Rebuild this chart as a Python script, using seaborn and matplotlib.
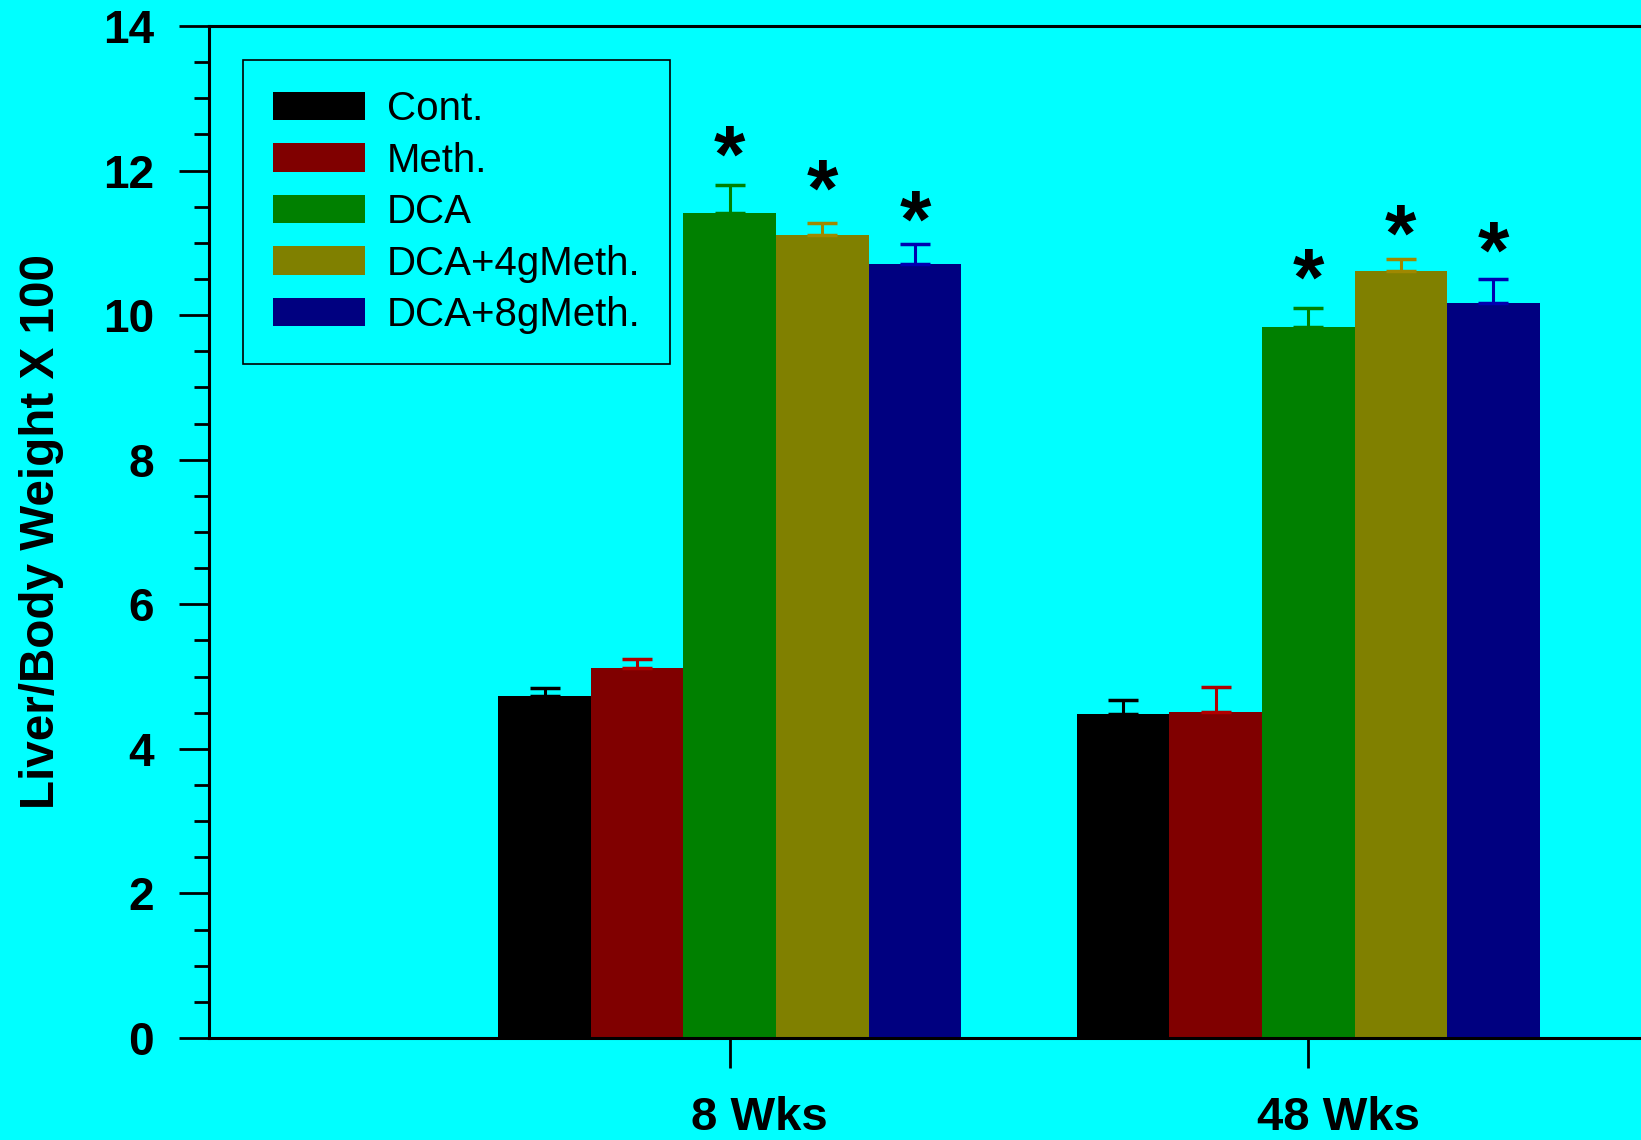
import numpy as np
import pandas as pd
import seaborn as sns
import matplotlib
matplotlib.use("Agg")
import matplotlib.pyplot as plt
import matplotlib.transforms as mtransforms
from matplotlib.ticker import MultipleLocator

# values
weeks = ["8 Wks", "48 Wks"]
groups = ["Cont.", "Meth.", "DCA", "DCA+4gMeth.", "DCA+8gMeth."]
means_8 = [4.73, 5.12, 11.41, 11.11, 10.71]
means_48 = [4.48, 4.51, 9.83, 10.61, 10.17]
sem_8 = [0.11, 0.12, 0.39, 0.16, 0.27]
sem_48 = [0.19, 0.35, 0.27, 0.17, 0.33]
# centre of the "*" marks above the treated groups
star_8 = [None, None, 12.40, 11.93, 11.50]
star_48 = [None, None, 10.69, 11.30, 11.07]

bar_colors = ["#000000", "#800000", "#008000", "#808000", "#000080"]
err_colors = ["#000000", "#B00000", "#008000", "#A08800", "#0000B0"]

df = pd.DataFrame({
    "week": np.repeat(weeks, len(groups)),
    "group": groups * len(weeks),
    "ratio": means_8 + means_48,
})

sns.set_style("ticks")
plt.rcParams["font.family"] = ["Liberation Sans", "DejaVu Sans"]
plt.rcParams["text.color"] = "black"
plt.rcParams["axes.labelcolor"] = "black"
plt.rcParams["xtick.color"] = "black"
plt.rcParams["ytick.color"] = "black"

fig = plt.figure(figsize=(16.41, 11.40), dpi=100, facecolor="#00FFFF")
ax = fig.add_axes([0.1274, 0.0895, 0.8726, 0.8877])
ax.set_facecolor("#00FFFF")

sns.barplot(data=df, x="week", y="ratio", hue="group", hue_order=groups,
            palette=bar_colors, saturation=1, width=0.8, linewidth=0,
            errorbar=None, legend=False, ax=ax)

bar_conts = list(ax.containers)
errs = [sem_8, sem_48]
stars = [star_8, star_48]
for gi, cont in enumerate(bar_conts):
    for wi, bar in enumerate(cont.patches):
        xc = bar.get_x() + bar.get_width() / 2
        h = bar.get_height()
        ax.errorbar(xc, h, yerr=[[0], [errs[wi][gi]]], fmt="none",
                    ecolor=err_colors[gi], elinewidth=2.2, capsize=11,
                    capthick=2.5)
        if stars[wi][gi] is not None:
            ax.annotate("*", xy=(xc, stars[wi][gi]), xytext=(0, -28.5),
                        textcoords="offset points", ha="center",
                        va="baseline", fontsize=58, fontweight="bold")

ax.set_xlim(-0.9, 1.575)
ax.set_ylim(0, 14)
ax.yaxis.set_major_locator(MultipleLocator(2))
ax.yaxis.set_minor_locator(MultipleLocator(0.5))

for side in ["left", "bottom", "top"]:
    ax.spines[side].set_linewidth(2.2)
    ax.spines[side].set_color("black")
ax.spines["right"].set_visible(False)

ax.tick_params(axis="y", which="major", direction="out", length=21.5,
               width=2, pad=18, labelsize=33)
ax.tick_params(axis="y", which="minor", direction="out", length=10.5,
               width=2)
ax.tick_params(axis="x", which="major", direction="out", length=21.5,
               width=2, pad=20, labelsize=34)
shift = mtransforms.ScaledTranslation(0.30, 0, fig.dpi_scale_trans)
for lab in ax.get_xticklabels():
    lab.set_fontweight("bold")
    lab.set_transform(lab.get_transform() + shift)
for lab in ax.get_yticklabels():
    lab.set_fontweight("bold")

ax.set_xlabel("")
ax.set_ylabel("Liver/Body Weight X 100", fontsize=34.3, fontweight="bold")
ax.yaxis.set_label_coords(-0.101, 0.5)

handles = [cont.patches[0] for cont in bar_conts]
leg = ax.legend(handles, groups, loc="upper left",
                bbox_to_anchor=(0.0237, 0.966), borderaxespad=0,
                fontsize=29, frameon=True, fancybox=False,
                handlelength=2.28, handleheight=0.72, labelspacing=0.335,
                handletextpad=0.55, borderpad=0.74)
leg.get_frame().set_edgecolor("black")
leg.get_frame().set_facecolor("#00FFFF")
leg.get_frame().set_linewidth(1.2)
leg.get_frame().set_alpha(1)

fig.savefig("out.png", dpi=100, facecolor=fig.get_facecolor())
